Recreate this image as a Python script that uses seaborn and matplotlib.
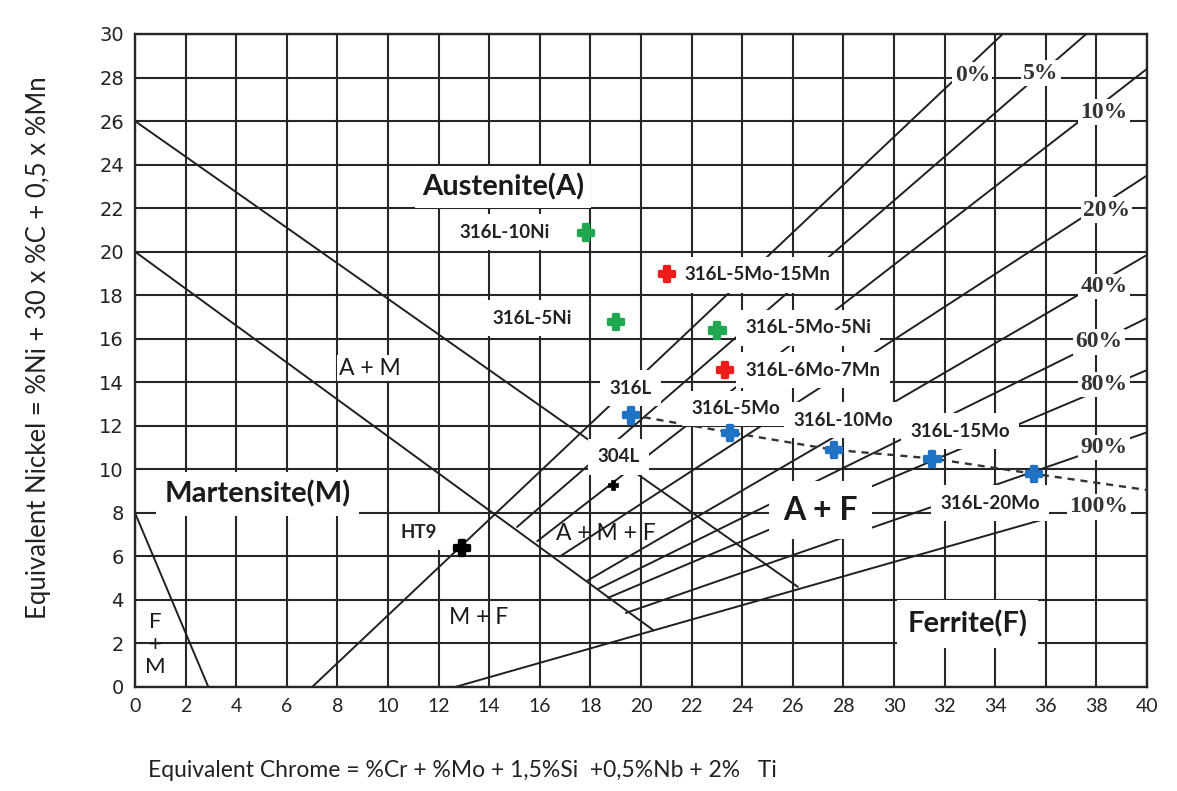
import matplotlib
matplotlib.use("Agg")
import matplotlib.pyplot as plt
import numpy as np
import pandas as pd
import seaborn as sns

# ---------------- data ----------------
cr_ticks = list(range(0, 41, 2))
ni_ticks = list(range(0, 31, 2))

alloys = ["316L-10Ni", "316L-5Ni", "316L-5Mo-5Ni", "316L-5Mo-15Mn", "316L-6Mo-7Mn",
          "316L", "316L-5Mo", "316L-10Mo", "316L-15Mo", "316L-20Mo", "304L", "HT9"]
cr_eq = [17.8, 19.0, 23.0, 21.0, 23.3, 19.6, 23.5, 27.6, 31.5, 35.5, 18.9, 12.9]
ni_eq = [20.9, 16.8, 16.4, 19.0, 14.6, 12.5, 11.7, 10.9, 10.5, 9.8, 9.3, 6.4]
alloy_family = ["Ni", "Ni", "Ni", "Mn", "Mn", "Mo", "Mo", "Mo", "Mo", "Mo", "ref", "ref"]

# Mo series trend continues to the right border
mo_series = ["316L", "316L-5Mo", "316L-10Mo", "316L-15Mo", "316L-20Mo"]
trend_end_cr = 40.0
trend_end_ni = 9.05

# phase boundaries (start / end points in Cr_eq, Ni_eq)
boundary_x0 = [0.0, 0.0, 0.0]
boundary_y0 = [26.0, 20.0, 8.0]
boundary_x1 = [26.2, 20.5, 2.9]
boundary_y1 = [4.6, 2.6, 0.0]

# iso-ferrite lines
ferrite_pct = ["0%", "5%", "10%", "20%", "40%", "60%", "80%", "90%", "100%"]
ferrite_x0 = [7.0, 15.1, 15.9, 16.8, 17.9, 18.3, 18.7, 19.4, 12.65]
ferrite_y0 = [0.0, 7.35, 6.7, 6.0, 4.9, 4.5, 4.1, 3.4, 0.0]
ferrite_x1 = [34.3, 37.6, 40.0, 40.0, 40.0, 40.0, 40.0, 40.0, 35.9]
ferrite_y1 = [30.0, 30.0, 28.4, 23.5, 19.85, 16.95, 14.56, 11.7, 7.7]

phase_names = ["Austenite(A)", "Martensite(M)", "Ferrite(F)", "A + F",
               "A + M", "A + M + F", "M + F", "F\n+\nM"]

x_title = "Equivalent Chrome = %Cr + %Mo + 1,5%Si  +0,5%Nb + 2%   Ti"
y_title = "Equivalent Nickel = %Ni + 30 x %C + 0,5 x %Mn"

# ---------------- layout / style ----------------
family_colors = {"Ni": "#1fa84f", "Mn": "#f01c1c", "Mo": "#1f73c4", "ref": "#000000"}

# label anchor positions (data units)
alloy_label_pos = {
    "316L-10Ni": (14.6, 20.9), "316L-5Ni": (15.7, 16.95), "316L-5Mo-5Ni": (26.6, 16.5),
    "316L-5Mo-15Mn": (24.6, 18.93), "316L-6Mo-7Mn": (26.8, 14.56), "316L": (19.6, 13.73),
    "316L-5Mo": (23.75, 12.8), "316L-10Mo": (28.0, 12.26), "316L-15Mo": (32.6, 11.76),
    "316L-20Mo": (33.8, 8.45), "304L": (19.1, 10.57), "HT9": (11.2, 7.12),
}
pct_label_pos = {
    "0%": (33.1, 28.1), "5%": (35.8, 28.2), "10%": (38.3, 26.4), "20%": (38.4, 21.9),
    "40%": (38.3, 18.4), "60%": (38.1, 15.85), "80%": (38.3, 13.9), "90%": (38.3, 11.0),
    "100%": (38.1, 8.27),
}
phase_style = {
    "Austenite(A)": ((14.55, 22.97), 21, "bold", 0.25),
    "Martensite(M)": ((4.84, 8.87), 21, "bold", 0.3),
    "Ferrite(F)": ((32.9, 2.9), 21, "bold", 0.35),
    "A + F": ((27.1, 8.13), 23, "bold", 0.45),
    "A + M": ((9.29, 14.65), 16.5, "normal", 0.1),
    "A + M + F": ((18.6, 7.07), 16.5, "normal", 0.0),
    "M + F": ((13.6, 3.2), 16.5, "normal", 0.0),
    "F\n+\nM": ((0.8, 1.95), 16, "normal", 0.0),
}

sns.set_theme(style="white")
plt.rcParams["font.family"] = ["Lato", "DejaVu Sans"]

W, H = 1177, 791
fig = plt.figure(figsize=(W / 100, H / 100), dpi=100)
ax = fig.add_axes([135 / W, 1 - 687 / H, (1147 - 135) / W, (687 - 34) / H])
ax.set_xlim(0, 40)
ax.set_ylim(0, 30)
ax.set_xticks(cr_ticks)
ax.set_yticks(ni_ticks)
ax.set_axisbelow(True)
ax.grid(True, color="#262626", lw=1.5)
for s in ax.spines.values():
    s.set_color("#262626")
    s.set_linewidth(1.7)
ax.tick_params(axis="both", length=0, pad=8, colors="#222222")
for lab in ax.get_yticklabels():
    lab.set_fontsize(14)
    lab.set_family(["DejaVu Sans"])
for lab in ax.get_xticklabels():
    lab.set_fontsize(14)
    lab.set_family(["Lato", "DejaVu Sans"])

# boundary and iso-ferrite lines as long-form data
rows = []
for i in range(len(boundary_x0)):
    rows += [("b%d" % i, boundary_x0[i], boundary_y0[i]), ("b%d" % i, boundary_x1[i], boundary_y1[i])]
for i, p in enumerate(ferrite_pct):
    rows += [(p, ferrite_x0[i], ferrite_y0[i]), (p, ferrite_x1[i], ferrite_y1[i])]
lines_df = pd.DataFrame(rows, columns=["line", "cr", "ni"])
sns.lineplot(data=lines_df, x="cr", y="ni", units="line", estimator=None, sort=False,
             color="#202020", lw=1.4, ax=ax, zorder=2)

# dashed trend through the Mo series
pts = pd.DataFrame({"alloy": alloys, "cr": cr_eq, "ni": ni_eq, "family": alloy_family})
mo = pts.set_index("alloy").loc[mo_series]
trend_cr = list(mo["cr"]) + [trend_end_cr]
trend_ni = list(mo["ni"]) + [trend_end_ni]
ax.plot(trend_cr, trend_ni, color="#333333", lw=1.7, ls=(0, (3, 2.5)), zorder=4)

# alloy markers
big = pts[pts["alloy"] != "304L"]
small = pts[pts["alloy"] == "304L"]
sns.scatterplot(data=big, x="cr", y="ni", hue="family", palette=family_colors, marker="P",
                s=120, linewidth=2.4, legend=False, ax=ax, zorder=7)
sns.scatterplot(data=small, x="cr", y="ni", hue="family", palette=family_colors, marker="P",
                s=60, linewidth=0.5, legend=False, ax=ax, zorder=7)
for c in ax.collections:
    c.set_edgecolor(c.get_facecolor())

# alloy labels
for name in alloys:
    x, y = alloy_label_pos[name]
    ax.text(x, y, name, ha="center", va="center", fontsize=13.5, fontweight="bold", color="#222222",
            family=["Lato", "DejaVu Sans"],
            bbox=dict(boxstyle="square,pad=0.5", facecolor="white", edgecolor="none"), zorder=6)

# phase region labels
for name in phase_names:
    (x, y), fs, fw, pad = phase_style[name]
    box = dict(boxstyle="square,pad=%.2f" % pad, facecolor="white", edgecolor="none") if pad > 0 else None
    ax.text(x, y, name, ha="center", va="center", fontsize=fs, fontweight=fw, color="#1a1a1a",
            linespacing=1.15, bbox=box, zorder=6)

# iso-ferrite percentages
for p in ferrite_pct:
    x, y = pct_label_pos[p]
    ax.text(x, y, p, ha="center", va="center", fontsize=17, fontweight="bold", color="#333333",
            family=["Liberation Serif", "DejaVu Serif"],
            bbox=dict(boxstyle="square,pad=0.1", facecolor="white", edgecolor="none"), zorder=6)

ax.set_xlabel(x_title, fontsize=16.5, color="#222222", family=["Lato", "DejaVu Sans"])
ax.xaxis.set_label_coords(0.013, -0.112)
ax.xaxis.label.set_ha("left")
ax.set_ylabel(y_title, fontsize=18.5, color="#222222", family=["Lato", "DejaVu Sans"])
ax.yaxis.set_label_coords(-0.083, 0.52)

fig.savefig("out.png", dpi=100, facecolor="white")
